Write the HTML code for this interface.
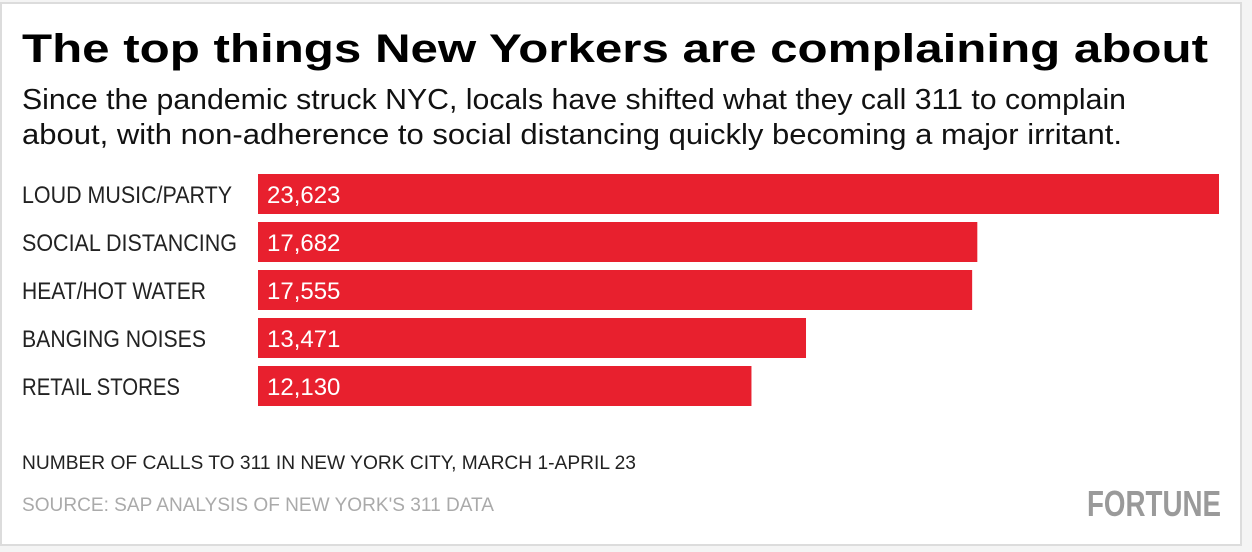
<!DOCTYPE html>
<html><head><meta charset="utf-8"><style>
html,body{margin:0;padding:0;background:#f2f2f2;}
svg{display:block;}
text{font-family:"Liberation Sans",sans-serif;}
</style></head><body>
<svg width="1252" height="552" viewBox="0 0 1252 552">
<rect x="0" y="0" width="1252" height="552" fill="#f4f4f4"/>
<rect x="1" y="3" width="1240" height="542" fill="#fff" stroke="#dcdcdc" stroke-width="2"/>
<text x="22" y="62" font-size="40" font-weight="bold" fill="#000" textLength="1186" lengthAdjust="spacingAndGlyphs">The top things New Yorkers are complaining about</text>
<text x="22" y="109" font-size="29" fill="#111" textLength="1104" lengthAdjust="spacingAndGlyphs">Since the pandemic struck NYC, locals have shifted what they call 311 to complain</text>
<text x="22" y="144" font-size="29" fill="#111" textLength="1100" lengthAdjust="spacingAndGlyphs">about, with non-adherence to social distancing quickly becoming a major irritant.</text>
<g id="bars"></g>
<text x="22" y="469" font-size="19" fill="#222" textLength="614" lengthAdjust="spacingAndGlyphs">NUMBER OF CALLS TO 311 IN NEW YORK CITY, MARCH 1-APRIL 23</text>
<text x="22" y="511" font-size="19" fill="#aaa" textLength="472" lengthAdjust="spacingAndGlyphs">SOURCE: SAP ANALYSIS OF NEW YORK'S 311 DATA</text>
<text x="1087" y="516" font-size="36" font-weight="bold" fill="#9a9a9a" textLength="134" lengthAdjust="spacingAndGlyphs">FORTUNE</text>
</svg>
<script>
const categories = ["LOUD MUSIC/PARTY","SOCIAL DISTANCING","HEAT/HOT WATER","BANGING NOISES","RETAIL STORES"];
const values = [23623,17682,17555,13471,12130];
const labelWidths = [210,215,184,184,158];
const NS="http://www.w3.org/2000/svg";
const g=document.getElementById('bars');
const x0=258, x1=1219, maxV=Math.max(...values);
function xs(v){return x0+(v/maxV)*(x1-x0);}
function ys(i){return 174+i*48;}
categories.forEach((c,i)=>{
  const r=document.createElementNS(NS,'rect');
  r.setAttribute('x',x0);r.setAttribute('y',ys(i));
  r.setAttribute('width',xs(values[i])-x0);r.setAttribute('height',40);
  r.setAttribute('fill','#e8202e');
  
  
  g.appendChild(r);
  const l=document.createElementNS(NS,'text');
  l.setAttribute('x',22);l.setAttribute('y',ys(i)+29);
  l.setAttribute('font-size','24');l.setAttribute('fill','#222');
  l.setAttribute('textLength',labelWidths[i]);l.setAttribute('lengthAdjust','spacingAndGlyphs');
  l.textContent=c;
  
  
  g.appendChild(l);
  const v=document.createElementNS(NS,'text');
  v.setAttribute('x',267);v.setAttribute('y',ys(i)+29);
  v.setAttribute('font-size','24');v.setAttribute('fill','#fff');
  v.textContent=values[i].toLocaleString('en-US');
  
  
  g.appendChild(v);
});
</script>
</body></html>
